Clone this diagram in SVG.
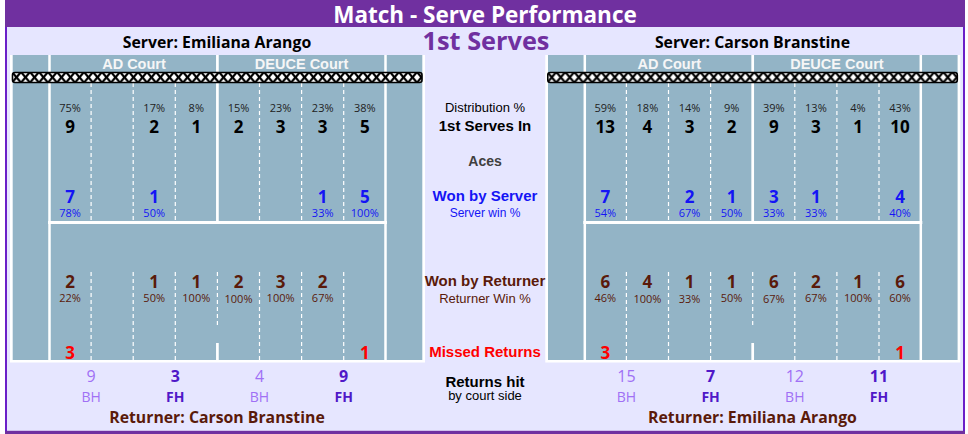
<svg xmlns="http://www.w3.org/2000/svg" width="968" height="434" viewBox="0 0 968 434">
<style>
.a{font-family:"Liberation Sans",Arial,sans-serif;text-anchor:middle}
.o{font-family:"Open Sans","Noto Sans",sans-serif;text-anchor:middle}
.pct{font-size:11px;fill:#222}
.num{font-size:17px;font-weight:700;fill:#000}
.b{font-weight:700}
.blue{fill:#1414F5}
.brn{fill:#5A1A0A}
.red{fill:#FF0000}
.bh{fill:#A070F5;font-size:16px}
.bhl{fill:#A070F5;font-size:14px}
.fh{fill:#5018C8;font-size:16px;font-weight:700}
.fhl{fill:#5018C8;font-size:14px;font-weight:700}
.srv{font-size:15.8px;font-weight:700;fill:#000}
.ret{font-size:15.8px;font-weight:700;fill:#5A1A0A}
.wl{stroke:#fff;fill:none}
.dash{stroke:#fff;stroke-width:1.2;stroke-dasharray:4 3;fill:none}
</style>
<defs>
<pattern id="netp" x="12" y="72" width="9" height="10.6" patternUnits="userSpaceOnUse">
<rect width="9" height="10.6" fill="#fff"/>
<path d="M0,0L9,10.6M9,0L0,10.6" stroke="#000" stroke-width="2.2"/>
</pattern>
<g id="court">
<rect x="10" y="55" width="415" height="307.5" fill="#fff"/>
<rect x="12.7" y="55" width="409.6" height="305" fill="#93B4C6"/>
<path class="wl" stroke-width="2.5" d="M49.5,55V360M385.5,55V360"/>
<path class="wl" stroke-width="2.7" d="M217.4,55V221M217.4,343V360"/>
<path class="wl" stroke-width="3" d="M48,222.5H387"/>
<path class="dash" d="M91.1,83V221M133.2,83V221M175.3,83V221M259.5,83V221M301.6,83V221M343.7,83V221"/>
<path class="dash" d="M91.1,272V360M133.2,272V360M175.3,272V360M259.5,272V360M301.6,272V360M343.7,272V360M217.4,272V326"/>
<rect x="12.5" y="72.5" width="409.5" height="10" rx="2.5" fill="url(#netp)" stroke="#000" stroke-width="1.6"/>
<text class="a b" x="134" y="68.5" font-size="14.5" fill="#F6F6F6">AD Court</text>
<text class="a b" x="301.6" y="68.5" font-size="14.5" fill="#F6F6F6">DEUCE Court</text>
</g>
</defs>

<g id="frame">
<rect x="5" y="0" width="960" height="434" fill="#E6E6FF"/>
<rect x="5" y="0" width="960" height="27" fill="#7030A0"/>
<rect x="5" y="430.8" width="960" height="3.2" fill="#7030A0"/>
<rect x="5" y="27" width="2" height="404" fill="#6A1FC8"/>
<rect x="963" y="27" width="2" height="404" fill="#6A1FC8"/>
<text class="o b" x="485" y="22.5" font-size="22.5" fill="#fff">Match - Serve Performance</text>
<text class="o b" x="486" y="50" font-size="25.3" fill="#7030A0">1st Serves</text>
</g>

<g id="left-court">
<use href="#court"/>
<text class="o srv" x="217" y="48">Server: Emiliana Arango</text>
<g class="o pct">
<text x="70" y="112">75%</text><text x="154.2" y="112">17%</text><text x="196.3" y="112">8%</text><text x="238.5" y="112">15%</text><text x="280.6" y="112">23%</text><text x="322.7" y="112">23%</text><text x="364.8" y="112">38%</text>
</g>
<g class="o num">
<text x="70" y="133">9</text><text x="154.2" y="133">2</text><text x="196.3" y="133">1</text><text x="238.5" y="133">2</text><text x="280.6" y="133">3</text><text x="322.7" y="133">3</text><text x="364.8" y="133">5</text>
</g>
<g class="o num blue">
<text x="70" y="202.5">7</text><text x="154.2" y="202.5">1</text><text x="322.7" y="202.5">1</text><text x="364.8" y="202.5">5</text>
</g>
<g class="o pct blue">
<text x="70" y="217">78%</text><text x="154.2" y="217">50%</text><text x="322.7" y="217">33%</text><text x="364.8" y="217">100%</text>
</g>
<g class="o num brn">
<text x="70" y="288">2</text><text x="154.2" y="288">1</text><text x="196.3" y="288">1</text><text x="238.5" y="288">2</text><text x="280.6" y="288">3</text><text x="322.7" y="288">2</text>
</g>
<g class="o pct brn">
<text x="70" y="302.3">22%</text><text x="154.2" y="302.3">50%</text><text x="196.3" y="302.3">100%</text><text x="238.5" y="303">100%</text><text x="280.6" y="302.3">100%</text><text x="322.7" y="302.3">67%</text>
</g>
<g class="o num red">
<text x="70" y="359">3</text><text x="364.8" y="359">1</text>
</g>
<g class="o">
<text class="bh" x="91.1" y="382">9</text><text class="bhl" x="91.1" y="401.5">BH</text>
<text class="fh" x="175.3" y="382">3</text><text class="fhl" x="175.3" y="401.5">FH</text>
<text class="bh" x="259.5" y="382">4</text><text class="bhl" x="259.5" y="401.5">BH</text>
<text class="fh" x="343.7" y="382">9</text><text class="fhl" x="343.7" y="401.5">FH</text>
</g>
<text class="o ret" x="217" y="423">Returner: Carson Branstine</text>
</g>

<g id="right-court">
<use href="#court" transform="translate(535.3,0)"/>
<text class="o srv" x="752.5" y="48">Server: Carson Branstine</text>
<g class="o pct">
<text x="605.3" y="112">59%</text><text x="647.4" y="112">18%</text><text x="689.5" y="112">14%</text><text x="731.6" y="112">9%</text><text x="773.8" y="112">39%</text><text x="815.9" y="112">13%</text><text x="858" y="112">4%</text><text x="900.1" y="112">43%</text>
</g>
<g class="o num">
<text x="605.3" y="133">13</text><text x="647.4" y="133">4</text><text x="689.5" y="133">3</text><text x="731.6" y="133">2</text><text x="773.8" y="133">9</text><text x="815.9" y="133">3</text><text x="858" y="133">1</text><text x="900.1" y="133">10</text>
</g>
<g class="o num blue">
<text x="605.3" y="202.5">7</text><text x="689.5" y="202.5">2</text><text x="731.6" y="202.5">1</text><text x="773.8" y="202.5">3</text><text x="815.9" y="202.5">1</text><text x="900.1" y="202.5">4</text>
</g>
<g class="o pct blue">
<text x="605.3" y="217">54%</text><text x="689.5" y="217">67%</text><text x="731.6" y="217">50%</text><text x="773.8" y="217">33%</text><text x="815.9" y="217">33%</text><text x="900.1" y="217">40%</text>
</g>
<g class="o num brn">
<text x="605.3" y="288">6</text><text x="647.4" y="288">4</text><text x="689.5" y="288">1</text><text x="731.6" y="288">1</text><text x="773.8" y="288">6</text><text x="815.9" y="288">2</text><text x="858" y="288">1</text><text x="900.1" y="288">6</text>
</g>
<g class="o pct brn">
<text x="605.3" y="302.3">46%</text><text x="647.4" y="303">100%</text><text x="689.5" y="303">33%</text><text x="731.6" y="302.3">50%</text><text x="773.8" y="303">67%</text><text x="815.9" y="302.3">67%</text><text x="858" y="302.3">100%</text><text x="900.1" y="302.3">60%</text>
</g>
<g class="o num red">
<text x="605.3" y="359">3</text><text x="900.1" y="359">1</text>
</g>
<g class="o">
<text class="bh" x="626.4" y="382">15</text><text class="bhl" x="626.4" y="401.5">BH</text>
<text class="fh" x="710.6" y="382">7</text><text class="fhl" x="710.6" y="401.5">FH</text>
<text class="bh" x="794.8" y="382">12</text><text class="bhl" x="794.8" y="401.5">BH</text>
<text class="fh" x="879" y="382">11</text><text class="fhl" x="879" y="401.5">FH</text>
</g>
<text class="o ret" x="752.5" y="423">Returner: Emiliana Arango</text>
</g>

<g id="legend" class="a">
<text x="485" y="112.3" font-size="13" fill="#000">Distribution %</text>
<text x="485" y="131" font-size="15" font-weight="700" fill="#000">1st Serves In</text>
<text x="485" y="166" font-size="14" font-weight="700" fill="#404040">Aces</text>
<text x="485" y="201" font-size="15" font-weight="700" class="blue">Won by Server</text>
<text x="485" y="217.3" font-size="12" class="blue">Server win %</text>
<text x="485" y="285.7" font-size="15" font-weight="700" class="brn">Won by Returner</text>
<text x="485" y="303.3" font-size="13" class="brn">Returner Win %</text>
<text x="485" y="357.3" font-size="15" font-weight="700" class="red">Missed Returns</text>
<text x="485" y="387.3" font-size="15" font-weight="700" fill="#000">Returns hit</text>
<text x="485" y="400.2" font-size="13" fill="#000">by court side</text>
</g>

<g id="connectors"/>
</svg>
